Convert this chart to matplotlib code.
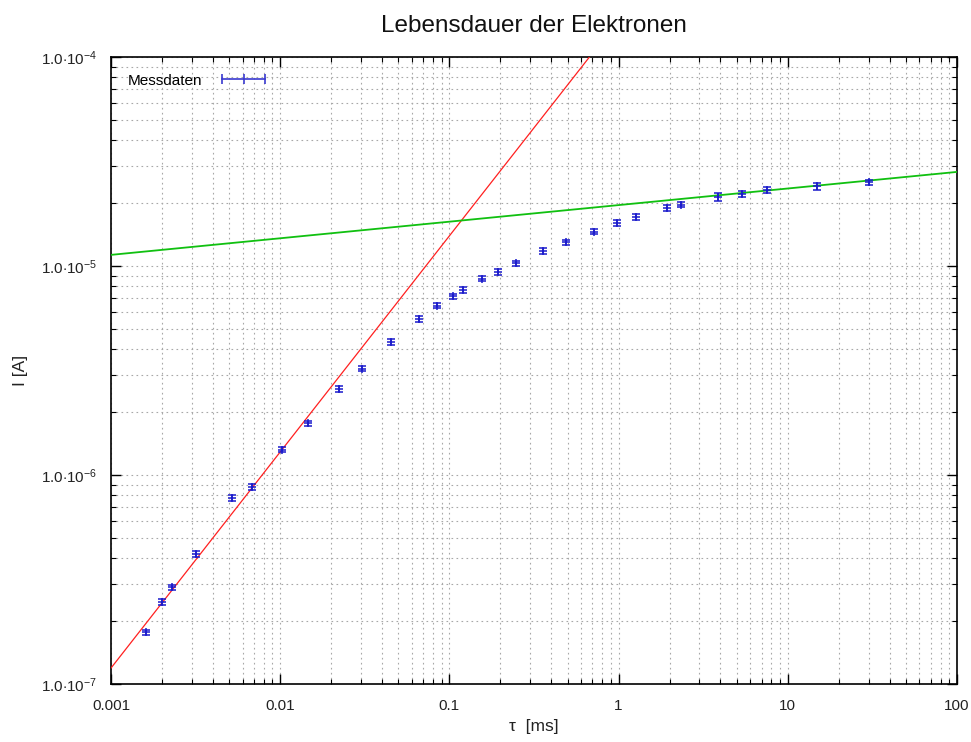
import numpy as np
import matplotlib
matplotlib.use('Agg')
import matplotlib.pyplot as plt
from matplotlib.ticker import LogLocator, FixedLocator, FuncFormatter, NullFormatter
from matplotlib.lines import Line2D

plt.rcParams['font.family'] = ['Liberation Sans', 'DejaVu Sans']
plt.rcParams['mathtext.fontset'] = 'custom'
plt.rcParams['mathtext.rm'] = 'Liberation Sans'
plt.rcParams['mathtext.it'] = 'Liberation Sans:italic'

# Messwerte: Verzögerungszeit tau [ms] und Strom I [A]
tau = [0.0016, 0.0020, 0.0023, 0.0032, 0.0052, 0.0068, 0.0102, 0.0146, 0.0222, 0.0303,
       0.045, 0.066, 0.084, 0.105, 0.12, 0.155, 0.193, 0.249, 0.355, 0.49,
       0.72, 0.98, 1.26, 1.94, 2.35, 3.88, 5.38, 7.55, 14.9, 30.3]
strom = [1.77e-7, 2.47e-7, 2.91e-7, 4.19e-7, 7.76e-7, 8.76e-7, 1.32e-6, 1.77e-6, 2.58e-6, 3.22e-6,
         4.33e-6, 5.58e-6, 6.44e-6, 7.18e-6, 7.68e-6, 8.67e-6, 9.36e-6, 1.033e-5, 1.18e-5, 1.30e-5,
         1.455e-5, 1.607e-5, 1.716e-5, 1.895e-5, 1.96e-5, 2.14e-5, 2.21e-5, 2.31e-5, 2.41e-5, 2.52e-5]
strom_err = [5e-9, 7e-9, 8e-9, 1.2e-8, 2.2e-8, 2.5e-8, 3.8e-8, 5e-8, 7.5e-8, 9e-8,
             1.2e-7, 1.6e-7, 1.8e-7, 2e-7, 2.2e-7, 2.4e-7, 2.6e-7, 2.9e-7, 3.3e-7, 3.6e-7,
             4e-7, 4.5e-7, 4.8e-7, 5.3e-7, 5.5e-7, 9e-7, 6.2e-7, 6.5e-7, 9e-7, 7e-7]

# Fitgeraden (Potenzgesetz I = A * tau^b)
A_kurz, b_kurz = 1.507e-4, 1.034
A_lang, b_lang = 1.956e-5, 0.0794

fig = plt.figure(figsize=(9.71, 7.42), dpi=100)
ax = fig.add_axes([0.1143, 0.0782, 0.8713, 0.845])

t = np.logspace(-3, 2, 400)
ax.plot(t, A_kurz * t ** b_kurz, color='#ff2020', lw=0.9, zorder=3)
ax.plot(t, A_lang * t ** b_lang, color='#10c010', lw=1.3, zorder=3)

ax.errorbar(tau, strom, yerr=strom_err, fmt='+', color='#1a1acc', ms=6, mew=1.1,
            elinewidth=1.1, capsize=3.2, capthick=1.1, zorder=4)

ax.set_xscale('log')
ax.set_yscale('log')
ax.set_xlim(0.001, 100)
ax.set_ylim(1e-7, 1e-4)

ax.xaxis.set_major_locator(FixedLocator([0.001, 0.01, 0.1, 1, 10, 100]))
ax.xaxis.set_major_formatter(FuncFormatter(lambda v, p: '%g' % v))
ax.xaxis.set_minor_locator(LogLocator(base=10, subs=np.arange(2, 10), numticks=20))
ax.xaxis.set_minor_formatter(NullFormatter())

ax.yaxis.set_major_locator(FixedLocator([1e-7, 1e-6, 1e-5, 1e-4]))
ax.yaxis.set_major_formatter(FuncFormatter(
    lambda v, p: r'1.0$\cdot$10$^{%d}$' % int(round(np.log10(v)))))
ax.yaxis.set_minor_locator(LogLocator(base=10, subs=np.arange(2, 10), numticks=20))
ax.yaxis.set_minor_formatter(NullFormatter())

ax.tick_params(which='both', direction='in', top=True, right=True, labelsize=11, colors='black')
ax.tick_params(which='major', length=7, width=1)
ax.tick_params(which='minor', length=3.5, width=0.8)
for lab in ax.get_xticklabels() + ax.get_yticklabels():
    lab.set_color('#222222')
ax.tick_params(axis='x', pad=11)
ax.tick_params(axis='y', pad=10)

ax.grid(True, which='both', color='#a8a8a8', linestyle=(0, (1.5, 3)), linewidth=0.8)
for s in ax.spines.values():
    s.set_linewidth(1.2)

ax.set_title('Lebensdauer der Elektronen', fontsize=17.5, pad=18, color='#111111')
ax.set_xlabel(r'τ  [ms]', fontsize=12.5, labelpad=4, color='#222222')
ax.set_ylabel('I [A]', fontsize=12.5, color='#222222')
ax.yaxis.set_label_coords(-0.098, 0.5)

proxy = Line2D([], [], color='#3a3ad0', lw=1.2, marker='|', ms=7, mew=1.2)
ax.legend([proxy], ['Messdaten'], loc='upper left', frameon=False, markerfirst=False,
          numpoints=3, handlelength=3.4, fontsize=11, borderaxespad=0.6,
          handletextpad=1.0, borderpad=0.5)

plt.savefig('out.png', dpi=100)
